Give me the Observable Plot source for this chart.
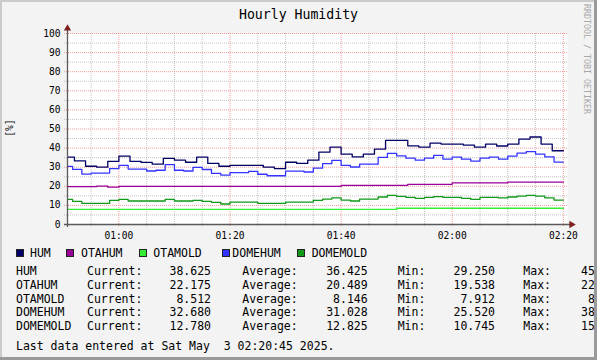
<!DOCTYPE html>
<html><head><meta charset="utf-8">
<script src="https://cdn.jsdelivr.net/npm/d3@7"></script>
<script src="https://cdn.jsdelivr.net/npm/@observablehq/plot@0.6"></script>
<style>
html,body{margin:0;padding:0;background:#fff;}
#wrap{position:relative;width:597px;height:360px;overflow:hidden;background:#f3f3f3;font-family:"DejaVu Sans Mono",monospace;color:#000;}
#wrap .t{position:absolute;white-space:pre;line-height:14px;font-size:11.5px;}
#plot{position:absolute;left:0;top:0;}
.box{position:absolute;width:6px;height:6px;border:1px solid #222;}
.edge{position:absolute;}
</style>
</head><body>
<div id="wrap"></div>
<script>
// ---- data ----
const title = "Hourly Humidity";
const yLabel = "[%]";
const watermark = "RRDTOOL / TOBI OETIKER";
const names = ["HUM", "OTAHUM", "OTAMOLD", "DOMEHUM", "DOMEMOLD"];
const colors = ["#000066", "#990099", "#33ee33", "#3333ff", "#11991a"];
const current = ["38.625", "22.175", "8.512", "32.680", "12.780"];
const average = ["36.425", "20.489", "8.146", "31.028", "12.825"];
const minimum = ["29.250", "19.538", "7.912", "25.520", "10.745"];
// the Max column is cut by the right edge of the image; only its visible part is shown
const maximumVisible = ["45", "22", "8", "38", "15"];
const lastLine = "Last data entered at Sat May  3 02:20:45 2025.";

// 120 s steps, values for intervals ending 00:52, 00:54, ... 02:20
const hum = [35.3, 33.3, 30.5, 30.0, 33.0, 35.8, 33.0, 32.5, 31.6, 34.6,
  33.7, 32.6, 35.3, 32.0, 30.5, 31.0, 31.0, 31.0, 30.0, 29.25,
  32.6, 32.0, 33.7, 37.9, 40.5, 36.8, 35.4, 36.8, 39.5, 44.0,
  44.0, 41.2, 40.5, 42.6, 42.1, 42.1, 41.6, 40.5, 42.1, 41.1,
  42.1, 44.7, 45.8, 42.1, 38.625];
const otahum = [19.8, 19.8, 19.8, 20.05, 19.54, 20.0, 20.0, 20.0, 20.0, 20.0,
  20.0, 20.0, 20.0, 20.0, 20.0, 20.0, 20.0, 20.0, 20.0, 20.0,
  20.0, 20.0, 20.0, 20.0, 20.0, 20.5, 20.5, 20.5, 20.5, 20.5,
  20.5, 21.05, 21.05, 21.05, 21.05, 21.75, 21.75, 21.75, 21.75, 21.75,
  22.175, 22.175, 22.175, 22.175, 22.175];
const otamold = [7.912, 7.912, 7.912, 7.912, 7.912, 7.912, 7.912, 7.912, 7.912, 7.912,
  7.912, 7.912, 7.912, 7.912, 7.912, 7.912, 7.912, 7.912, 7.912, 7.912,
  7.912, 7.912, 7.912, 7.912, 7.912, 7.912, 7.912, 7.912, 7.912, 7.912,
  8.512, 8.512, 8.512, 8.512, 8.512, 8.512, 8.512, 8.512, 8.512, 8.512,
  8.512, 8.512, 8.512, 8.512, 8.512];
// 100 s steps, values for intervals ending 00:51:40, 00:53:20, ... 02:20:00
const domehum = [30.4, 28.9, 26.4, 26.9, 26.9, 29.3, 31.0, 29.0, 29.0, 28.0,
  28.4, 31.4, 28.4, 28.0, 29.9, 28.8, 26.8, 25.9, 27.2, 27.2,
  27.8, 26.3, 25.52, 25.52, 27.9, 27.9, 27.5, 29.5, 31.9, 33.6,
  31.0, 30.1, 31.6, 31.6, 35.1, 37.2, 35.9, 34.7, 33.7, 34.7,
  36.2, 34.2, 35.3, 34.2, 33.2, 34.7, 35.3, 34.2, 35.8, 37.4,
  38.2, 36.8, 35.4, 32.68];
const domemold = [13.2, 12.1, 11.05, 11.05, 11.05, 12.6, 13.2, 12.3, 12.3, 12.3,
  12.3, 13.2, 12.3, 12.3, 12.6, 12.1, 11.6, 10.745, 11.7, 11.7,
  11.7, 11.05, 11.05, 11.05, 11.75, 11.75, 11.75, 12.6, 13.3, 13.9,
  12.8, 12.3, 13.3, 13.3, 14.4, 15.3, 14.7, 14.2, 13.7, 14.2,
  14.6, 14.2, 14.2, 13.7, 13.2, 14.2, 14.2, 13.9, 14.4, 14.9,
  15.3, 14.9, 13.9, 12.78];

const yMajor = [0, 10, 20, 30, 40, 50, 60, 70, 80, 90, 100];
const yMinor = [5, 15, 25, 35, 45, 55, 65, 75, 85, 95];
const xMajor = ["01:00", "01:20", "01:40", "02:00", "02:20"];
const xMinor = ["00:55", "01:05", "01:10", "01:15", "01:25", "01:30", "01:35",
  "01:45", "01:50", "01:55", "02:05", "02:10", "02:15"];

// ---- build ----
const at = (h, m, s = 0) => new Date(2025, 4, 3, h, m, s);
const hm = s => { const [h, m] = s.split(":").map(Number); return at(h, m); };
const start = at(0, 50, 45), end = at(2, 20, 45), base = at(0, 50, 0);
function series(vals, stepSec, name) {
  const pts = [{t: base, v: vals[0], name}];
  vals.forEach((v, i) => pts.push({t: new Date(+base + (i + 1) * stepSec * 1000), v, name}));
  return pts;
}
const all = [
  series(hum, 120, "HUM"), series(otahum, 120, "OTAHUM"), series(otamold, 120, "OTAMOLD"),
  series(domehum, 100, "DOMEHUM"), series(domemold, 100, "DOMEMOLD")
];
const draw = ["OTAMOLD", "OTAHUM", "DOMEMOLD", "DOMEHUM", "HUM"];

const gridMinor = {stroke: "#8a8a8a", strokeOpacity: 0.5, strokeDasharray: "1,1"};
const gridMajor = {stroke: "#f05a5a", strokeOpacity: 0.6, strokeDasharray: "1,1"};

const chart = Plot.plot({
  width: 597, height: 240,
  marginLeft: 67, marginRight: 30, marginTop: 33, marginBottom: 16,
  x: {type: "time", domain: [start, end]},
  y: {domain: [0, 100]},
  style: {background: "transparent", fontFamily: "DejaVu Sans Mono", fontSize: "9.6px", overflow: "visible", color: "#000"},
  marks: [
    Plot.frame({fill: "white", stroke: null}),
    Plot.ruleY(yMinor, {...gridMinor, insetLeft: -3, insetRight: -1}),
    Plot.ruleX(xMinor.map(hm), {...gridMinor, insetBottom: -3}),
    Plot.ruleY(yMajor, {...gridMajor, insetLeft: -3, insetRight: -1}),
    Plot.ruleX(xMajor.map(hm), {...gridMajor, insetBottom: -3}),
    ...draw.map(n => {
      const i = names.indexOf(n);
      return Plot.line(all[i], {x: "t", y: "v", curve: "step-before", stroke: colors[i], strokeWidth: 1.3, clip: true});
    }),
    Plot.ruleX([start], {stroke: "#5a5a5a", strokeWidth: 1.3, insetTop: -3, insetBottom: -3}),
    Plot.ruleY([0], {stroke: "#5a5a5a", strokeWidth: 1.3, insetLeft: -3, insetRight: -3}),
    Plot.dot([{x: start, y: 100}], {x: "x", y: "y", symbol: "triangle", r: 2.7, fill: "#7f1f1f", stroke: null, dy: -5}),
    Plot.dot([{x: end, y: 0}], {x: "x", y: "y", symbol: "triangle", rotate: 90, r: 2.7, fill: "#7f1f1f", stroke: null, dx: 4}),
    Plot.axisY(yMajor, {tickSize: 0, tickPadding: 7, label: null}),
    Plot.axisX(xMajor.map(hm), {tickSize: 0, tickPadding: 7.5, tickFormat: d3.timeFormat("%H:%M"), label: null})
  ]
});

const wrap = document.getElementById("wrap");
chart.id = "plot";
wrap.appendChild(chart);

function txt(s, left, cy, extra = {}) {
  const d = document.createElement("div");
  d.className = "t";
  d.textContent = s;
  d.style.top = (cy - 7) + "px";
  if (left !== null) d.style.left = left + "px";
  Object.assign(d.style, extra);
  wrap.appendChild(d);
  return d;
}
// title
txt(title, 0, 15, {width: "597px", textAlign: "center", fontSize: "13.2px"});
// y label
txt(yLabel, 10, 128, {fontSize: "9.6px", transform: "translate(-50%,-50%) rotate(-90deg)", top: "128px", lineHeight: "10px"});
// watermark
txt(watermark, 592, 0, {fontSize: "8.3px", lineHeight: "10px", top: "4px", color: "#a8a8a8", transformOrigin: "0 0", transform: "rotate(90deg)"});
// legend
const boxX = [16, 65.5, 138.5, 222, 297];
const nameX = [30, 81, 153.3, 232.3, 311.7];
names.forEach((n, i) => {
  const b = document.createElement("div");
  b.className = "box";
  b.style.left = boxX[i] + "px"; b.style.top = "248.5px";
  b.style.background = colors[i];
  wrap.appendChild(b);
  txt(n, nameX[i], 252.5);
});
// stats table
names.forEach((n, i) => {
  const cy = 271 + i * 13.8;
  txt(n, 16, cy);
  txt("Current:", 87, cy);
  txt(current[i], null, cy, {right: (597 - 211) + "px"});
  txt("Average:", 242.3, cy);
  txt(average[i], null, cy, {right: (597 - 367.7) + "px"});
  txt("Min:", 397.7, cy);
  txt(minimum[i], null, cy, {right: (597 - 495) + "px"});
  txt("Max:", 523.3, cy);
  txt(maximumVisible[i], 581 + (2 - maximumVisible[i].length) * 6.92, cy);
});
txt(lastLine, 16, 346);
// 3D border
[["0", "0", "597px", "2px", "#cbcbcb"], ["0", "0", "2px", "360px", "#cbcbcb"],
 ["0", "357px", "597px", "3px", "#9a9a9a"], ["594px", "0", "3px", "360px", "#9a9a9a"]].forEach(([l, t, w, h, c]) => {
  const e = document.createElement("div");
  e.className = "edge";
  Object.assign(e.style, {left: l, top: t, width: w, height: h, background: c});
  wrap.appendChild(e);
});
</script>
</body></html>
